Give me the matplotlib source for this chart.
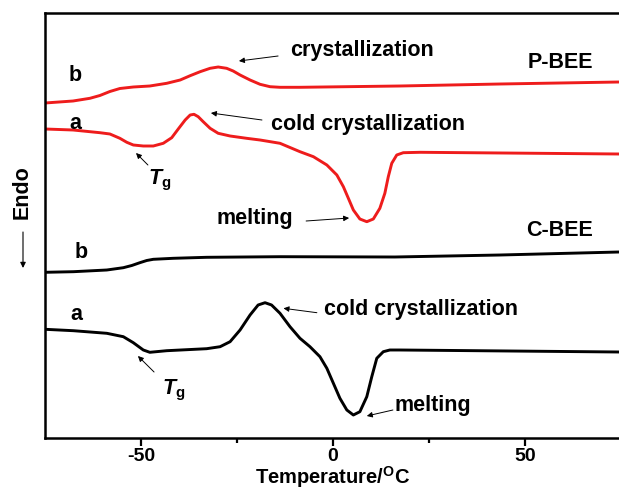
import matplotlib
matplotlib.use('Agg')
import matplotlib.pyplot as plt

plt.rcParams['font.family'] = ['Liberation Sans', 'DejaVu Sans']
plt.rcParams['font.weight'] = 'bold'
plt.rcParams['axes.unicode_minus'] = False
plt.rcParams['mathtext.fontset'] = 'custom'
plt.rcParams['mathtext.rm'] = 'Liberation Sans:bold'
plt.rcParams['mathtext.it'] = 'Liberation Sans:italic:bold'
plt.rcParams['mathtext.bf'] = 'Liberation Sans:bold'

# P-BEE, curve b
pb_T = [-75.0, -67.7, -63.3, -60.7, -58.1, -55.5, -52.0, -47.7, -43.3, -39.8, -37.2,
        -34.6, -32.0, -29.9, -27.7, -26.0, -24.2, -21.6, -19.0, -16.4, -13.8, -8.6,
        17.4, 43.5, 74.5]
pb_y = [335, 337, 339.7, 342.5, 346.5, 349.5, 351, 352, 354.7, 358, 362.3,
        366.3, 369.7, 371, 369.7, 367, 363, 358, 353.7, 351.3, 350.7, 350.7,
        352, 354, 356]

# P-BEE, curve a
pa_T = [-75.0, -67.7, -60.7, -58.1, -55.5, -53.7, -52.0, -49.4, -46.8, -44.2, -42.0,
        -40.3, -38.5, -37.2, -36.2, -35.1, -33.8, -32.0, -29.9, -26.8, -22.5, -19.0,
        -13.8, -8.6, -5.1, -1.6, 1.0, 2.7, 4.0, 5.3, 7.0, 8.8, 10.5, 12.2, 13.5,
        14.4, 15.3, 16.6, 18.3, 22.7, 74.5]
pa_y = [309, 308, 305.3, 304, 299.7, 295.7, 293, 292, 292, 294.7, 300.3,
        309, 318, 323, 323.7, 321.3, 316.3, 309.7, 304.7, 302, 299.7, 298,
        294.7, 286.3, 281.3, 273, 263, 251.3, 239.7, 228, 219, 216.3, 219, 229.7, 244.7,
        261.3, 274.7, 283, 285.3, 285.7, 284]

# C-BEE, curve b
cb_T = [-75.0, -67.6, -58.9, -54.6, -52.4, -50.3, -48.5, -46.8, -41.6, -32.9, -13.8,
        16.1, 43.5, 74.5]
cb_y = [165.7, 166.3, 168, 170.3, 172.5, 175.3, 177.5, 178.7, 179.7, 180.7, 181.3,
        181, 183, 186]

# C-BEE, curve a
ca_T = [-75.0, -67.6, -58.9, -54.6, -52.0, -49.4, -47.7, -43.3, -32.9, -29.4, -26.8,
        -24.2, -21.6, -19.5, -17.7, -16.0, -13.8, -11.2, -8.6, -6.0, -3.4, -1.6,
        0.1, 1.8, 3.6, 5.3, 7.0, 8.8, 10.1, 11.4, 13.1, 14.8, 17.4, 74.5]
ca_y = [108.7, 107.3, 104.7, 101.3, 95.3, 88, 85.7, 87.3, 89.3, 91.3, 96.3,
        108, 123, 133, 135.3, 133, 124.7, 111.3, 99.7, 91.3, 81.3, 69.7,
        54.7, 39.7, 28, 23, 26.3, 41.3, 61.3, 79.7, 86.3, 88, 88, 86]

red = '#ee1c1c'

fig = plt.figure(figsize=(6.19, 4.92), dpi=100)
ax = fig.add_axes([45 / 619, 54 / 492, 576 / 619, 425 / 492])

line_kw = dict(lw=2.1, solid_joinstyle='round', solid_capstyle='round')
ax.plot(pb_T, pb_y, color=red, **line_kw)
ax.plot(pa_T, pa_y, color=red, **line_kw)
ax.plot(cb_T, cb_y, color='black', **line_kw)
ax.plot(ca_T, ca_y, color='black', **line_kw)

ax.set_xlim(-75, 75)
ax.set_ylim(0, 425)
ax.set_yticks([])
ax.set_xticks([-50, 0, 50])
ax.set_xticks([-25, 25], minor=True)
ax.tick_params(axis='x', which='major', direction='out', length=6, width=1.6,
               labelsize=14, pad=1.5)
ax.tick_params(axis='x', which='minor', direction='out', length=3.5, width=1.6)
for s in ax.spines.values():
    s.set_linewidth(1.8)

# x-axis title, placed in figure coordinates so it stays inside the canvas
fig.text(333 / 619, 2 / 492, 'Temperature/$^\\mathrm{O}$C', fontsize=14.5,
         fontweight='bold', ha='center', va='bottom')

fs = 15.5
arr = dict(arrowstyle='-|>', color='black', lw=0.7, mutation_scale=8, shrinkA=0, shrinkB=0)

ax.text(7.6, 388, 'crystallization', fontsize=fs, ha='center', va='center')
ax.annotate('', xy=(-24.5, 377), xytext=(-14.3, 382), arrowprops=arr)
ax.text(59.1, 376, 'P-BEE', fontsize=fs, ha='center', va='center')
ax.text(-67.2, 363, 'b', fontsize=fs, ha='center', va='center')
ax.text(-67.2, 315, 'a', fontsize=fs, ha='center', va='center')
ax.text(9.1, 314, 'cold crystallization', fontsize=fs, ha='center', va='center')
ax.annotate('', xy=(-31.8, 325), xytext=(-18.5, 318), arrowprops=arr)
ax.text(-45.1, 258, r'$\mathit{T}_{\mathrm{g}}$', fontsize=fs, ha='center', va='center')
ax.annotate('', xy=(-51.3, 285), xytext=(-48.2, 273), arrowprops=arr)
ax.text(-20.3, 220, 'melting', fontsize=fs, ha='center', va='center')
ax.annotate('', xy=(4.2, 220), xytext=(-7.0, 217), arrowprops=arr)

ax.text(59.1, 208, 'C-BEE', fontsize=fs, ha='center', va='center')
ax.text(-65.6, 186, 'b', fontsize=fs, ha='center', va='center')
ax.text(-66.7, 123, 'a', fontsize=fs, ha='center', va='center')
ax.text(23.0, 129, 'cold crystallization', fontsize=fs, ha='center', va='center')
ax.annotate('', xy=(-12.9, 129.7), xytext=(-4.2, 125.3), arrowprops=arr)
ax.text(-41.4, 48, r'$\mathit{T}_{\mathrm{g}}$', fontsize=fs, ha='center', va='center')
ax.annotate('', xy=(-50.8, 82), xytext=(-46.6, 66), arrowprops=arr)
ax.text(26.0, 32, 'melting', fontsize=fs, ha='center', va='center')
ax.annotate('', xy=(8.8, 22), xytext=(15.6, 28), arrowprops=arr)

fig.text(22 / 619, 1 - 192 / 492, 'Endo', rotation=90, fontsize=fs,
         ha='center', va='center')
ax.annotate('', xy=(23 / 619, 1 - 268 / 492), xytext=(23 / 619, 1 - 232 / 492),
            xycoords='figure fraction', textcoords='figure fraction',
            arrowprops=dict(arrowstyle='-|>', color='black', lw=0.8,
                            mutation_scale=8, shrinkA=0, shrinkB=0))

fig.savefig('out.png', dpi=100)
